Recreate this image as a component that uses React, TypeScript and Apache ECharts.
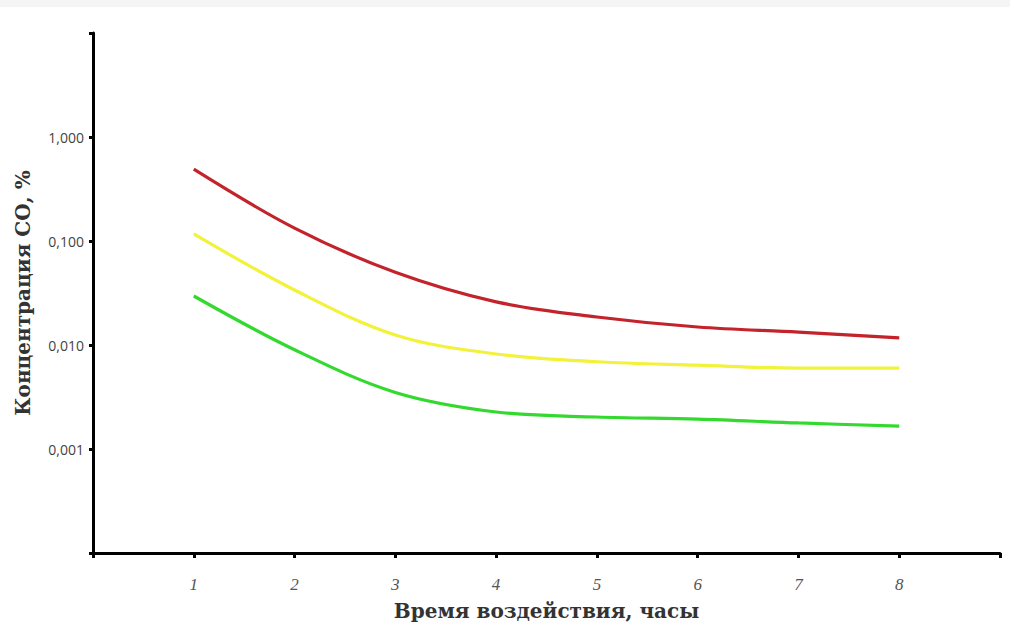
import React, { useEffect, useRef } from "react";
import * as echarts from "echarts";

const hours = [1, 2, 3, 4, 5, 6, 7, 8];
const redValues = [0.49, 0.133, 0.05, 0.026, 0.0186, 0.0149, 0.0133, 0.0117];
const yellowValues = [0.117, 0.0338, 0.0125, 0.0082, 0.0069, 0.0064, 0.006, 0.006];
const greenValues = [0.0296, 0.009, 0.0035, 0.00227, 0.00203, 0.00194, 0.00178, 0.00166];
const yTickLabels = [0.001, 0.01, 0.1, 1];
const xTickLabels = [1, 2, 3, 4, 5, 6, 7, 8];

const xTitle = "Время воздействия, часы";
const yTitle = "Концентрация СО, %";

function pairs(vals: number[]) {
  return hours.map((h, i) => [h, vals[i]]);
}

export default function App() {
  const ref = useRef<HTMLDivElement>(null);
  useEffect(() => {
    if (!ref.current) return;
    const chart = echarts.init(ref.current, undefined, { renderer: "svg" });
    const lineSeries = (name: string, vals: number[], color: string) => ({
      name,
      type: "line",
      data: pairs(vals),
      smooth: 0.35,
      showSymbol: false,
      symbol: "none",
      lineStyle: { color, width: 3.2 },
    });
    const titleStyle = {
      fontFamily: "DejaVu Serif, Liberation Serif, serif",
      fontWeight: "bold",
      fontSize: 20,
      color: "#333333",
    };
    chart.setOption({
      animation: false,
      backgroundColor: "#ffffff",
      graphic: [
        {
          type: "rect",
          shape: { x: 0, y: 0, width: 1010, height: 7 },
          style: { fill: "#f5f5f5" },
          silent: true,
        },
      ],
      grid: { left: 93, right: 20, top: 33, bottom: 77 },
      xAxis: {
        type: "value",
        min: 0,
        max: 9,
        interval: 1,
        name: xTitle,
        nameLocation: "middle",
        nameGap: 48,
        nameTextStyle: titleStyle,
        axisLine: { show: true, lineStyle: { color: "#000000", width: 3 } },
        axisTick: {
          show: true,
          inside: false,
          length: 5,
          lineStyle: { color: "#000000", width: 3 },
        },
        axisLabel: {
          margin: 23,
          fontFamily: "Liberation Serif, DejaVu Serif, serif",
          fontStyle: "italic",
          fontSize: 17,
          color: "#555555",
          formatter: (v: number) => (xTickLabels.indexOf(v) >= 0 ? String(v) : ""),
        },
        splitLine: { show: false },
      },
      yAxis: {
        type: "log",
        logBase: 10,
        min: 0.0001,
        max: 10,
        name: yTitle,
        nameLocation: "middle",
        nameGap: 60,
        nameRotate: 90,
        nameTextStyle: titleStyle,
        axisLine: { show: true, lineStyle: { color: "#000000", width: 3 } },
        axisTick: {
          show: true,
          inside: false,
          length: 4,
          lineStyle: { color: "#000000", width: 3 },
        },
        axisLabel: {
          margin: 9,
          fontFamily: "Open Sans, Liberation Sans, sans-serif",
          fontSize: 14,
          color: "#444444",
          formatter: (v: number) => {
            const hit = yTickLabels.find((t) => Math.abs(Math.log10(v) - Math.log10(t)) < 1e-6);
            return hit !== undefined ? hit.toFixed(3).replace(".", ",") : "";
          },
        },
        splitLine: { show: false },
      },
      series: [
        lineSeries("red", redValues, "#c3232b"),
        lineSeries("yellow", yellowValues, "#f2f23a"),
        lineSeries("green", greenValues, "#33d92e"),
      ],
    });
    return () => chart.dispose();
  }, []);
  return (
    <div
      ref={ref}
      style={{ position: "fixed", left: 0, top: 0, width: 1020, height: 630, background: "#fff" }}
    />
  );
}
